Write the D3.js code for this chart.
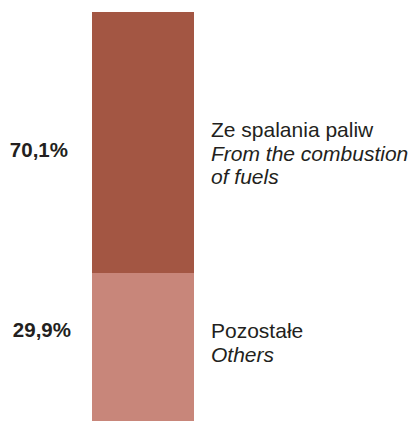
<!DOCTYPE html>
<html lang="pl">
  <head>
    <meta charset="utf-8">
    <title>Emisja</title>
    <style>
    body { margin: 0; background: #fff; }
    .pct {
        font-family: "Liberation Sans", Arial, sans-serif;
        font-size: 20.5px;
        font-weight: bold;
        fill: #231f20;
        text-anchor: end;
    }
    .lab {
        font-family: "Liberation Sans", Arial, sans-serif;
        font-size: 21px;
        fill: #231f20;
    }
    .lab .en { font-style: italic; }
    </style>
  </head>
  <body>
   <div id="chart"></div>
  <script src="https://cdn.jsdelivr.net/npm/d3@7"></script>
  <script>

    // data
    var categories = ["Pozostałe", "Ze spalania paliw"];
    var values = [29.9, 70.1];
    var valueLabels = ["29,9%", "70,1%"];
    var labelsPl = [["Pozostałe"], ["Ze spalania paliw"]];
    var labelsEn = [["Others"], ["From the combustion", "of fuels"]];
    var colors = ["#c8867a", "#a35643"];

    var width = 411, height = 421;

    var svg = d3.select("#chart").append("svg")
        .attr("width", width)
        .attr("height", height);

    // stack the two shares
    var stacked = [];
    var cum = 0;
    values.forEach(function(v, i){
        stacked.push({cat: categories[i], y0: cum, y1: cum + v, i: i});
        cum += v;
    });

    // the original bar is not drawn to proportion, so use a piecewise scale
    var yScale = d3.scaleLinear()
        .domain([0, values[0], 100])
        .range([421, 273, 12]);

    var xScale = d3.scaleBand()
        .domain(["bar"])
        .range([92, 194]);

    svg.selectAll("rect.seg")
       .data(stacked)
       .enter()
       .append("rect")
       .attr("class", "seg")
       .attr("x", xScale("bar"))
       .attr("width", xScale.bandwidth())
       .attr("y", function(d){ return yScale(d.y1); })
       .attr("height", function(d){ return yScale(d.y0) - yScale(d.y1); })
       .attr("fill", function(d){ return colors[d.i]; });

    // label baselines (layout)
    var pctY = [337, 157];
    var labY = [338, 137];
    var lineH = 23.5;

    svg.selectAll("text.pct")
       .data(stacked)
       .enter()
       .append("text")
       .attr("class", "pct")
       .attr("x", function(d){ return d.i === 0 ? 71 : 68; })
       .attr("y", function(d){ return pctY[d.i]; })
       .text(function(d){ return valueLabels[d.i]; });

    stacked.forEach(function(d){
        var lines = labelsPl[d.i].map(function(t){ return {t: t, en: false}; })
            .concat(labelsEn[d.i].map(function(t){ return {t: t, en: true}; }));
        var g = svg.append("text").attr("class", "lab");
        lines.forEach(function(l, k){
            g.append("tspan")
             .attr("x", 211)
             .attr("y", labY[d.i] + k * lineH)
             .classed("en", l.en)
             .text(l.t);
        });
    });

  </script>
  </body>
</html>
